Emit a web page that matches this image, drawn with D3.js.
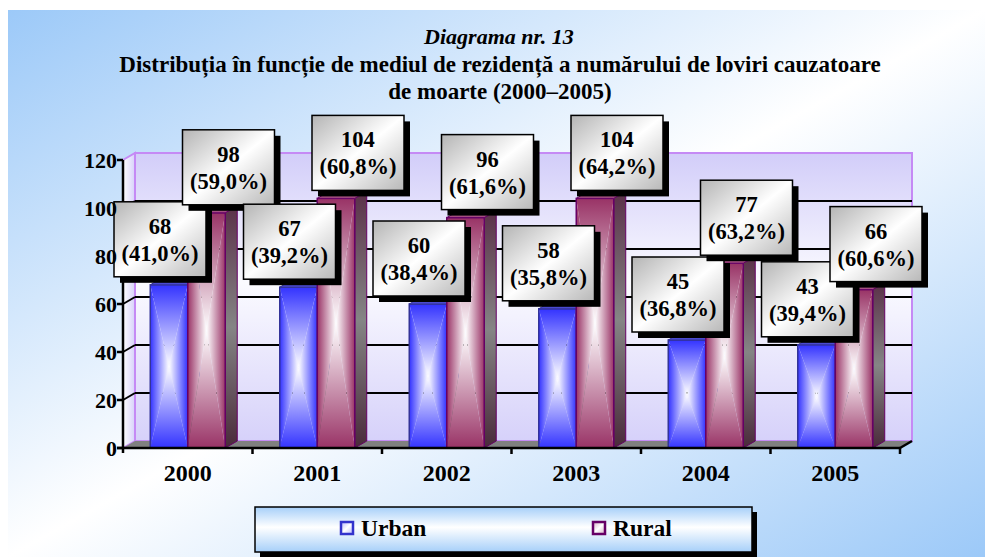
<!DOCTYPE html>
<html>
<head>
<meta charset="utf-8">
<script src="https://cdn.jsdelivr.net/npm/d3@7"></script>
<style>
  html, body { margin: 0; padding: 0; background: #fff; }
</style>
</head>
<body>
<div id="chart"></div>
<script>
// Data
const years = ["2000", "2001", "2002", "2003", "2004", "2005"];
const seriesNames = ["Urban", "Rural"];
const urban = [68, 67, 60, 58, 45, 43];
const rural = [98, 104, 96, 104, 77, 66];
const urbanPct = ["41,0%", "39,2%", "38,4%", "35,8%", "36,8%", "39,4%"];
const ruralPct = ["59,0%", "60,8%", "61,6%", "64,2%", "63,2%", "60,6%"];
const yTicks = [0, 20, 40, 60, 80, 100, 120];
const titleLines = ["Distribuția în funcție de mediul de rezidență a numărului de loviri cauzatoare", "de moarte (2000–2005)"];

const W = 985, H = 557;
const pLeft = 123, pRight = 900, pBottom = 448, pTop = 160;
const dx = 12, dy = -7;   // 3d depth offset

const svg = d3.select("#chart").append("svg").attr("width", W).attr("height", H)
  .attr("font-family", "'Liberation Serif', 'Times New Roman', serif")
  .attr("font-weight", "bold");
const defs = svg.append("defs");

function linGrad(id, x1, y1, x2, y2, stops) {
  const g = defs.append("linearGradient").attr("id", id)
    .attr("x1", x1).attr("y1", y1).attr("x2", x2).attr("y2", y2);
  stops.forEach(s => g.append("stop").attr("offset", s[0]).attr("stop-color", s[1]));
}

linGrad("bgGrad", 0, 0, 1, 1, [[0, "#9cc9f8"], [0.5, "#ffffff"], [1, "#9cc9f8"]]);
linGrad("wallGrad", 0, 0, 0, 1, [[0, "#d2cdf9"], [0.45, "#fbfbff"], [1, "#d6d1fa"]]);
linGrad("sideGrad", 0, 0, 1, 0, [[0, "#ffffff"], [1, "#d6d1fa"]]);
linGrad("legGrad", 0, 0, 0, 1, [[0, "#a6cff9"], [0.45, "#ffffff"], [1, "#a6cff9"]]);
linGrad("labGrad", 0, 0, 1, 1, [[0, "#b4b4b4"], [0.5, "#ffffff"], [1, "#b8b8b8"]]);

const colors = { Urban: "#3333ff", Rural: "#993366" };
const outlines = { Urban: "#333399", Rural: "#660066" };
const topColors = { Urban: "#4a4ad0", Rural: "#a45080" };
Object.keys(colors).forEach(k => {
  linGrad(k + "-l", 0, 0, 1, 0, [[0, colors[k]], [1, "#ffffff"]]);
  linGrad(k + "-r", 1, 0, 0, 0, [[0, colors[k]], [1, "#ffffff"]]);
  linGrad(k + "-t", 0, 0, 0, 1, [[0, colors[k]], [1, "#ffffff"]]);
  linGrad(k + "-b", 0, 1, 0, 0, [[0, colors[k]], [1, "#ffffff"]]);
});
linGrad("sideFace", 0, 0, 0, 1, [[0, "#5a3048"], [0.5, "#858585"], [1, "#4a2a3a"]]);

// background
svg.append("rect").attr("x", 8).attr("y", 10).attr("width", W - 8).attr("height", H - 10)
  .attr("fill", "url(#bgGrad)");

// titles
svg.append("text").attr("x", 499).attr("y", 44).attr("text-anchor", "middle")
  .attr("font-size", 22).attr("font-style", "italic").text("Diagrama nr. 13");
titleLines.forEach((t, i) => {
  svg.append("text").attr("x", 500).attr("y", 72 + i * 27).attr("text-anchor", "middle")
    .attr("font-size", 23).text(t);
});

// scales
const y = d3.scaleLinear().domain([0, 120]).range([pBottom, pTop]);
const x = d3.scaleBand().domain(years).range([pLeft, pRight]);
const xs = d3.scaleBand().domain(seriesNames).range([0, x.bandwidth()]).paddingInner(0).paddingOuter(0.727);

const pts = p => p.map(d => d.join(",")).join(" ");

// side wall
svg.append("polygon")
  .attr("points", pts([[pLeft, pBottom], [pLeft, pTop], [pLeft + dx, pTop + dy], [pLeft + dx, pBottom + dy]]))
  .attr("fill", "url(#sideGrad)").attr("stroke", "#c58af5").attr("stroke-width", 2);
// back wall
svg.append("rect").attr("x", pLeft + dx).attr("y", pTop + dy)
  .attr("width", pRight - pLeft).attr("height", pBottom - pTop)
  .attr("fill", "url(#wallGrad)").attr("stroke", "#c58af5").attr("stroke-width", 2);

// gridlines
const inner = yTicks.filter(v => v > 0 && v < 120);
svg.append("g").selectAll("line").data(inner).enter().append("line")
  .attr("x1", pLeft + dx).attr("x2", pRight + dx)
  .attr("y1", d => y(d) + dy).attr("y2", d => y(d) + dy)
  .attr("stroke", "#000").attr("stroke-width", 2);
svg.append("g").selectAll("line").data(inner).enter().append("line")
  .attr("x1", pLeft).attr("x2", pLeft + dx)
  .attr("y1", d => y(d)).attr("y2", d => y(d) + dy)
  .attr("stroke", "#000").attr("stroke-width", 2);

// floor
svg.append("polygon")
  .attr("points", pts([[pLeft, pBottom], [pRight, pBottom], [pRight + dx, pBottom + dy], [pLeft + dx, pBottom + dy]]))
  .attr("fill", "#808080");

// bars
const bars = svg.append("g");
years.forEach((yr, i) => {
  [["Urban", urban[i]], ["Rural", rural[i]]].forEach(([s, v]) => {
    const x0 = x(yr) + xs(s), w = xs.bandwidth();
    const x1 = x0 + w, yt = y(v), yb = y(0);
    const cx = x0 + w / 2, cy = (yt + yb) / 2;
    const g = bars.append("g");
    g.append("polygon")
      .attr("points", pts([[x1, yt], [x1 + dx, yt + dy], [x1 + dx, yb + dy], [x1, yb]]))
      .attr("fill", "url(#sideFace)").attr("stroke", outlines[s]).attr("stroke-width", 1);
    g.append("polygon").attr("points", pts([[x0, yt], [cx, cy], [x0, yb]])).attr("fill", `url(#${s}-l)`);
    g.append("polygon").attr("points", pts([[x1, yt], [cx, cy], [x1, yb]])).attr("fill", `url(#${s}-r)`);
    g.append("polygon").attr("points", pts([[x0, yt], [x1, yt], [cx, cy]])).attr("fill", `url(#${s}-t)`);
    g.append("polygon").attr("points", pts([[x0, yb], [x1, yb], [cx, cy]])).attr("fill", `url(#${s}-b)`);
    g.append("rect").attr("x", x0).attr("y", yt).attr("width", w).attr("height", yb - yt)
      .attr("fill", "none").attr("stroke", outlines[s]).attr("stroke-width", 1.5);
    g.append("polygon")
      .attr("points", pts([[x0, yt], [x1, yt], [x1 + dx, yt + dy], [x0 + dx, yt + dy]]))
      .attr("fill", topColors[s]).attr("stroke", outlines[s]).attr("stroke-width", 1);
  });
});

// axes
const axes = svg.append("g").attr("stroke", "#000").attr("stroke-width", 2.5);
axes.append("line").attr("x1", pLeft).attr("x2", pLeft).attr("y1", pTop).attr("y2", pBottom + 5);
axes.append("line").attr("x1", pLeft - 6).attr("x2", pRight).attr("y1", pBottom).attr("y2", pBottom);
axes.append("line").attr("x1", pRight).attr("x2", pRight + dx).attr("y1", pBottom).attr("y2", pBottom + dy);
axes.selectAll(".yt").data(yTicks).enter().append("line")
  .attr("x1", pLeft - 6).attr("x2", pLeft).attr("y1", d => y(d)).attr("y2", d => y(d));
axes.selectAll(".xt").data(years).enter().append("line")
  .attr("x1", d => x(d) + x.bandwidth()).attr("x2", d => x(d) + x.bandwidth())
  .attr("y1", pBottom).attr("y2", pBottom + 6);

svg.append("g").selectAll("text").data(years).enter().append("text")
  .attr("x", d => x(d) + x.bandwidth() / 2).attr("y", 481)
  .attr("text-anchor", "middle").attr("font-size", 24).text(d => d);

// data labels
const boxW = 92, boxH = 75;
const shift = { Urban: -9, Rural: 22 };
const labels = svg.append("g");
years.forEach((yr, i) => {
  [["Urban", urban[i], urbanPct[i]], ["Rural", rural[i], ruralPct[i]]].forEach(([s, v, p]) => {
    const cx = x(yr) + xs(s) + xs.bandwidth() / 2 + shift[s];
    const by = y(v) - 8 - boxH;
    const bx = cx - boxW / 2;
    labels.append("rect").attr("x", bx + 6).attr("y", by + 6).attr("width", boxW).attr("height", boxH).attr("fill", "#000");
    labels.append("rect").attr("x", bx).attr("y", by).attr("width", boxW).attr("height", boxH)
      .attr("fill", "url(#labGrad)").attr("stroke", "#000").attr("stroke-width", 1.5);
    labels.append("text").attr("x", cx).attr("y", by + 32).attr("text-anchor", "middle")
      .attr("font-size", 22.5).text(v);
    labels.append("text").attr("x", cx).attr("y", by + 59).attr("text-anchor", "middle")
      .attr("font-size", 22.5).text("(" + p + ")");
  });
});

// y tick labels drawn above the data labels
svg.append("g").selectAll("text").data(yTicks).enter().append("text")
  .attr("x", pLeft - 6).attr("y", d => y(d)).attr("dy", "0.35em")
  .attr("text-anchor", "end").attr("font-size", 22).text(d => d);

// legend
const leg = svg.append("g");
leg.append("rect").attr("x", 260).attr("y", 512).attr("width", 497).attr("height", 45).attr("fill", "#000");
leg.append("rect").attr("x", 255).attr("y", 507).attr("width", 497).attr("height", 45)
  .attr("fill", "url(#legGrad)").attr("stroke", "#000").attr("stroke-width", 1.5);
const legX = d3.scalePoint().domain(seriesNames).range([340, 592]);
linGrad("swU", 0, 0, 1, 1, [[0, "#b8b8ff"], [0.5, "#ffffff"], [1, "#b8b8ff"]]);
linGrad("swR", 0, 0, 1, 1, [[0, "#d8b0c4"], [0.5, "#ffffff"], [1, "#d8b0c4"]]);
seriesNames.forEach(s => {
  leg.append("rect").attr("x", legX(s) + 1).attr("y", 522).attr("width", 12).attr("height", 12)
    .attr("fill", s === "Urban" ? "url(#swU)" : "url(#swR)")
    .attr("stroke", s === "Urban" ? "#3333cc" : "#660066").attr("stroke-width", 2.5);
  leg.append("text").attr("x", legX(s) + 21).attr("y", 536).attr("font-size", 23.5).text(s);
});
</script>
</body>
</html>
